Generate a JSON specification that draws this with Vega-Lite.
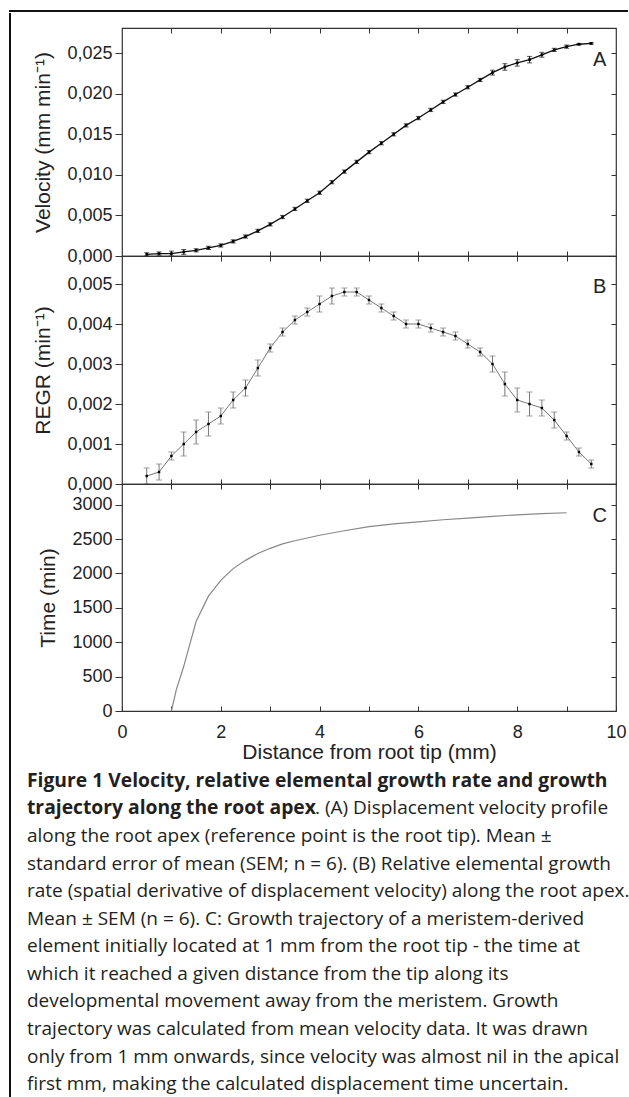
{
  "$schema": "https://vega.github.io/schema/vega-lite/v6.json",
  "background": "white",
  "padding": {"left": 9, "top": 10, "right": 0, "bottom": 0},
  "config": {
    "font": "Liberation Sans",
    "view": {"stroke": "#333", "strokeWidth": 1.2},
    "axis": {"grid": false, "domain": false, "labelColor": "#222", "titleColor": "#222", "tickColor": "#333", "labelFontSize": 18, "titleFontSize": 21, "titleFontWeight": "normal", "labelFlush": false, "labelOverlap": false}
  },
  "datasets": {
    "vel": [
      {"d": 0.5, "v": 0.0002, "e": 0.0002}, {"d": 0.75, "v": 0.0003, "e": 0.0002}, {"d": 1.0, "v": 0.0003, "e": 0.0003},
      {"d": 1.25, "v": 0.0005, "e": 0.0003}, {"d": 1.5, "v": 0.0007, "e": 0.0002}, {"d": 1.75, "v": 0.0010, "e": 0.0002},
      {"d": 2.0, "v": 0.0013, "e": 0.0002}, {"d": 2.25, "v": 0.0018, "e": 0.0002}, {"d": 2.5, "v": 0.0024, "e": 0.0002},
      {"d": 2.75, "v": 0.0031, "e": 0.0002}, {"d": 3.0, "v": 0.0039, "e": 0.0002}, {"d": 3.25, "v": 0.0048, "e": 0.0002},
      {"d": 3.5, "v": 0.0058, "e": 0.0002}, {"d": 3.75, "v": 0.0068, "e": 0.0002}, {"d": 4.0, "v": 0.0078, "e": 0.0002},
      {"d": 4.25, "v": 0.0091, "e": 0.0002}, {"d": 4.5, "v": 0.0104, "e": 0.0002}, {"d": 4.75, "v": 0.0116, "e": 0.0002},
      {"d": 5.0, "v": 0.0128, "e": 0.0002}, {"d": 5.25, "v": 0.0139, "e": 0.0002}, {"d": 5.5, "v": 0.0150, "e": 0.0002},
      {"d": 5.75, "v": 0.0161, "e": 0.0002}, {"d": 6.0, "v": 0.0170, "e": 0.0002}, {"d": 6.25, "v": 0.0180, "e": 0.0002},
      {"d": 6.5, "v": 0.0190, "e": 0.0002}, {"d": 6.75, "v": 0.0199, "e": 0.0002}, {"d": 7.0, "v": 0.0208, "e": 0.0002},
      {"d": 7.25, "v": 0.0217, "e": 0.0002}, {"d": 7.5, "v": 0.0226, "e": 0.0003}, {"d": 7.75, "v": 0.0233, "e": 0.0004},
      {"d": 8.0, "v": 0.0238, "e": 0.0004}, {"d": 8.25, "v": 0.0242, "e": 0.0004}, {"d": 8.5, "v": 0.0248, "e": 0.0003},
      {"d": 8.75, "v": 0.0254, "e": 0.0002}, {"d": 9.0, "v": 0.0258, "e": 0.0002}, {"d": 9.25, "v": 0.0261, "e": 0.0001},
      {"d": 9.5, "v": 0.0262, "e": 0.0001}
    ],
    "regr": [
      {"d": 0.5, "r": 0.0002, "e": 0.0002}, {"d": 0.75, "r": 0.0003, "e": 0.0002}, {"d": 1.0, "r": 0.0007, "e": 0.0001},
      {"d": 1.25, "r": 0.0010, "e": 0.0003}, {"d": 1.5, "r": 0.0013, "e": 0.0003}, {"d": 1.75, "r": 0.0015, "e": 0.0003},
      {"d": 2.0, "r": 0.0017, "e": 0.0002}, {"d": 2.25, "r": 0.0021, "e": 0.0002}, {"d": 2.5, "r": 0.0024, "e": 0.0002},
      {"d": 2.75, "r": 0.0029, "e": 0.0002}, {"d": 3.0, "r": 0.0034, "e": 0.0001}, {"d": 3.25, "r": 0.0038, "e": 0.0001},
      {"d": 3.5, "r": 0.0041, "e": 0.0001}, {"d": 3.75, "r": 0.0043, "e": 0.0001}, {"d": 4.0, "r": 0.0045, "e": 0.0002},
      {"d": 4.25, "r": 0.0047, "e": 0.0002}, {"d": 4.5, "r": 0.0048, "e": 0.0001}, {"d": 4.75, "r": 0.0048, "e": 0.0001},
      {"d": 5.0, "r": 0.0046, "e": 0.0001}, {"d": 5.25, "r": 0.0044, "e": 0.0001}, {"d": 5.5, "r": 0.0042, "e": 0.0001},
      {"d": 5.75, "r": 0.0040, "e": 0.0001}, {"d": 6.0, "r": 0.0040, "e": 0.0001}, {"d": 6.25, "r": 0.0039, "e": 0.0001},
      {"d": 6.5, "r": 0.0038, "e": 0.0001}, {"d": 6.75, "r": 0.0037, "e": 0.0001}, {"d": 7.0, "r": 0.0035, "e": 0.0001},
      {"d": 7.25, "r": 0.0033, "e": 0.0001}, {"d": 7.5, "r": 0.0030, "e": 0.0002}, {"d": 7.75, "r": 0.0025, "e": 0.0003},
      {"d": 8.0, "r": 0.0021, "e": 0.0003}, {"d": 8.25, "r": 0.0020, "e": 0.0003}, {"d": 8.5, "r": 0.0019, "e": 0.0002},
      {"d": 8.75, "r": 0.0016, "e": 0.0002}, {"d": 9.0, "r": 0.0012, "e": 0.0001}, {"d": 9.25, "r": 0.0008, "e": 0.0001},
      {"d": 9.5, "r": 0.0005, "e": 0.0001}
    ],
    "time": [
      {"d": 1.0, "t": 0}, {"d": 1.1, "t": 310}, {"d": 1.25, "t": 650}, {"d": 1.5, "t": 1300}, {"d": 1.75, "t": 1670},
      {"d": 2.0, "t": 1900}, {"d": 2.25, "t": 2070}, {"d": 2.5, "t": 2190}, {"d": 2.75, "t": 2290}, {"d": 3.0, "t": 2365},
      {"d": 3.25, "t": 2430}, {"d": 3.5, "t": 2475}, {"d": 3.75, "t": 2515}, {"d": 4.0, "t": 2555}, {"d": 4.5, "t": 2620},
      {"d": 5.0, "t": 2680}, {"d": 5.5, "t": 2720}, {"d": 6.0, "t": 2750}, {"d": 6.5, "t": 2780}, {"d": 7.0, "t": 2805},
      {"d": 7.5, "t": 2830}, {"d": 8.0, "t": 2852}, {"d": 8.5, "t": 2868}, {"d": 9.0, "t": 2882}
    ],
    "caption": [
      {"line": 1, "kind": "bold", "text": "Figure 1 Velocity, relative elemental growth rate and growth"},
      {"line": 2, "kind": "bold", "text": "trajectory along the root apex"},
      {"line": 2, "kind": "tail", "text": ". (A) Displacement velocity profile"},
      {"line": 3, "kind": "normal", "text": "along the root apex (reference point is the root tip). Mean ±"},
      {"line": 4, "kind": "normal", "text": "standard error of mean (SEM; n = 6). (B) Relative elemental growth"},
      {"line": 5, "kind": "normal", "text": "rate (spatial derivative of displacement velocity) along the root apex."},
      {"line": 6, "kind": "normal", "text": "Mean ± SEM (n = 6). C: Growth trajectory of a meristem-derived"},
      {"line": 7, "kind": "normal", "text": "element initially located at 1 mm from the root tip - the time at"},
      {"line": 8, "kind": "normal", "text": "which it reached a given distance from the tip along its"},
      {"line": 9, "kind": "normal", "text": "developmental movement away from the meristem. Growth"},
      {"line": 10, "kind": "normal", "text": "trajectory was calculated from mean velocity data. It was drawn"},
      {"line": 11, "kind": "normal", "text": "only from 1 mm onwards, since velocity was almost nil in the apical"},
      {"line": 12, "kind": "normal", "text": "first mm, making the calculated displacement time uncertain."}
    ]
  },
  "spacing": 0,
  "vconcat": [
    {
      "width": 617, "height": 0.01,
      "view": {"stroke": "#111", "strokeWidth": 2},
      "data": {"values": []},
      "mark": {"type": "point"},
      "encoding": {}
    },
    {
      "spacing": 15,
      "hconcat": [
        {
          "width": 0.01, "height": 1084,
          "view": {"stroke": "#111", "strokeWidth": 2},
          "data": {"values": []},
          "mark": {"type": "point"},
          "encoding": {}
        },
        {
          "spacing": 4,
          "vconcat": [
            {
              "width": 494, "height": 8,
              "view": {"stroke": null},
              "data": {"values": []},
              "mark": {"type": "point"},
              "encoding": {}
            },
            {
              "spacing": 0,
              "bounds": "flush",
              "vconcat": [
                {
                  "width": 494, "height": 228,
                  "data": {"name": "vel"},
                  "layer": [
                    {
                      "mark": {"type": "errorbar", "color": "#111", "thickness": 1, "ticks": {"size": 5}},
                      "encoding": {
                        "x": {"field": "d", "type": "quantitative", "scale": {"domain": [0, 10], "nice": false}, "axis": null},
                        "y": {"field": "v", "type": "quantitative", "scale": {"domain": [0, 0.0281], "nice": false}, "axis": null},
                        "yError": {"field": "e"}
                      }
                    },
                    {
                      "mark": {"type": "line", "color": "#111", "strokeWidth": 1.3},
                      "encoding": {
                        "x": {"field": "d", "type": "quantitative", "scale": {"domain": [0, 10], "nice": false},
                          "axis": {"orient": "bottom", "values": [1, 2, 3, 4, 5, 6, 7, 8, 9], "labels": false, "title": null, "tickSize": -5}},
                        "y": {"field": "v", "type": "quantitative", "scale": {"domain": [0, 0.0281], "nice": false},
                          "axis": {"orient": "left", "values": [0, 0.005, 0.01, 0.015, 0.02, 0.025], "labelExpr": "replace(format(datum.value, '.3f'), '.', ',')", "title": "Velocity (mm min⁻¹)", "tickSize": 7, "labelPadding": 3, "titlePadding": 13}}
                      }
                    },
                    {
                      "mark": {"type": "point", "shape": "square", "filled": true, "size": 7, "color": "#000", "opacity": 1},
                      "encoding": {
                        "x": {"field": "d", "type": "quantitative", "scale": {"domain": [0, 10], "nice": false}, "axis": null},
                        "y": {"field": "v", "type": "quantitative", "scale": {"domain": [0, 0.0281], "nice": false}, "axis": null}
                      }
                    },
                    {
                      "data": {"values": [{"panel": "A"}]},
                      "mark": {"type": "text", "fontSize": 20, "color": "#222", "align": "center", "baseline": "middle"},
                      "encoding": {
                        "text": {"field": "panel"},
                        "x": {"datum": 9.67, "type": "quantitative", "scale": {"domain": [0, 10], "nice": false},
                          "axis": {"orient": "top", "values": [1, 2, 3, 4, 5, 6, 7, 8, 9], "labels": false, "title": null, "tickSize": -5}},
                        "y": {"datum": 0.0241, "type": "quantitative", "scale": {"domain": [0, 0.0281], "nice": false},
                          "axis": {"orient": "right", "values": [0.005, 0.01, 0.015, 0.02, 0.025], "labels": false, "title": null, "tickSize": -5}}
                      }
                    }
                  ],
                  "resolve": {"axis": {"x": "independent", "y": "independent"}}
                },
                {
                  "width": 494, "height": 228,
                  "data": {"name": "regr"},
                  "layer": [
                    {
                      "mark": {"type": "errorbar", "color": "#777", "thickness": 1, "ticks": {"size": 6}},
                      "encoding": {
                        "x": {"field": "d", "type": "quantitative", "scale": {"domain": [0, 10], "nice": false}, "axis": null},
                        "y": {"field": "r", "type": "quantitative", "scale": {"domain": [0, 0.0057], "nice": false}, "axis": null},
                        "yError": {"field": "e"}
                      }
                    },
                    {
                      "mark": {"type": "line", "color": "#777", "strokeWidth": 1},
                      "encoding": {
                        "x": {"field": "d", "type": "quantitative", "scale": {"domain": [0, 10], "nice": false},
                          "axis": {"orient": "bottom", "values": [1, 2, 3, 4, 5, 6, 7, 8, 9], "labels": false, "title": null, "tickSize": -5}},
                        "y": {"field": "r", "type": "quantitative", "scale": {"domain": [0, 0.0057], "nice": false},
                          "axis": {"orient": "left", "values": [0, 0.001, 0.002, 0.003, 0.004, 0.005], "labelExpr": "replace(format(datum.value, '.3f'), '.', ',')", "title": "REGR (min⁻¹)", "tickSize": 7, "labelPadding": 3, "titlePadding": 13}}
                      }
                    },
                    {
                      "mark": {"type": "point", "shape": "square", "filled": true, "size": 6, "color": "#000", "opacity": 1},
                      "encoding": {
                        "x": {"field": "d", "type": "quantitative", "scale": {"domain": [0, 10], "nice": false}, "axis": null},
                        "y": {"field": "r", "type": "quantitative", "scale": {"domain": [0, 0.0057], "nice": false}, "axis": null}
                      }
                    },
                    {
                      "data": {"values": [{"panel": "B"}]},
                      "mark": {"type": "text", "fontSize": 20, "color": "#222", "align": "center", "baseline": "middle"},
                      "encoding": {
                        "text": {"field": "panel"},
                        "x": {"datum": 9.67, "type": "quantitative", "scale": {"domain": [0, 10], "nice": false},
                          "axis": {"orient": "top", "values": [1, 2, 3, 4, 5, 6, 7, 8, 9], "labels": false, "title": null, "tickSize": -5}},
                        "y": {"datum": 0.00493, "type": "quantitative", "scale": {"domain": [0, 0.0057], "nice": false},
                          "axis": {"orient": "right", "values": [0.001, 0.002, 0.003, 0.004, 0.005], "labels": false, "title": null, "tickSize": -5}}
                      }
                    }
                  ],
                  "resolve": {"axis": {"x": "independent", "y": "independent"}}
                },
                {
                  "width": 494, "height": 227,
                  "data": {"name": "time"},
                  "layer": [
                    {
                      "mark": {"type": "line", "color": "#888", "strokeWidth": 1.2},
                      "encoding": {
                        "x": {"field": "d", "type": "quantitative", "scale": {"domain": [0, 10], "nice": false},
                          "axis": {"orient": "bottom", "values": [0, 1, 2, 3, 4, 5, 6, 7, 8, 9, 10], "labelExpr": "datum.value % 2 === 0 ? datum.label : ''", "title": "Distance from root tip (mm)", "tickSize": -5, "labelPadding": 17, "titlePadding": 0}},
                        "y": {"field": "t", "type": "quantitative", "scale": {"domain": [0, 3300], "nice": false},
                          "axis": {"orient": "left", "values": [0, 500, 1000, 1500, 2000, 2500, 3000], "format": "d", "title": "Time (min)", "tickSize": 7, "labelPadding": 3, "titlePadding": 13}}
                      }
                    },
                    {
                      "data": {"values": [{"panel": "C"}]},
                      "mark": {"type": "text", "fontSize": 20, "color": "#222", "align": "center", "baseline": "middle"},
                      "encoding": {
                        "text": {"field": "panel"},
                        "x": {"datum": 9.67, "type": "quantitative", "scale": {"domain": [0, 10], "nice": false},
                          "axis": {"orient": "top", "values": [1, 2, 3, 4, 5, 6, 7, 8, 9], "labels": false, "title": null, "tickSize": -5}},
                        "y": {"datum": 2830, "type": "quantitative", "scale": {"domain": [0, 3300], "nice": false},
                          "axis": {"orient": "right", "values": [500, 1000, 1500, 2000, 2500, 3000], "labels": false, "title": null, "tickSize": -5}}
                      }
                    }
                  ],
                  "resolve": {"axis": {"x": "independent", "y": "independent"}}
                }
              ]
            },
            {
              "width": 600, "height": 331,
              "view": {"stroke": null},
              "data": {"name": "caption"},
              "encoding": {
                "x": {"datum": 0, "type": "quantitative", "scale": {"domain": [0, 1]}, "axis": null},
                "y": {"field": "line", "type": "ordinal", "scale": {"domain": [1, 2, 3, 4, 5, 6, 7, 8, 9, 10, 11, 12]}, "axis": null},
                "text": {"field": "text"}
              },
              "layer": [
                {
                  "transform": [{"filter": "datum.kind === 'bold'"}],
                  "mark": {"type": "text", "font": "Open Sans", "fontWeight": "bold", "fontSize": 19.3, "color": "#231f20", "align": "left", "baseline": "middle", "dx": -95}
                },
                {
                  "transform": [{"filter": "datum.kind === 'normal'"}],
                  "mark": {"type": "text", "font": "Open Sans", "fontSize": 19, "color": "#231f20", "align": "left", "baseline": "middle", "dx": -95}
                },
                {
                  "transform": [{"filter": "datum.kind === 'tail'"}],
                  "mark": {"type": "text", "font": "Open Sans", "fontSize": 19, "color": "#231f20", "align": "left", "baseline": "middle", "dx": 193}
                }
              ]
            }
          ]
        }
      ]
    }
  ]
}
